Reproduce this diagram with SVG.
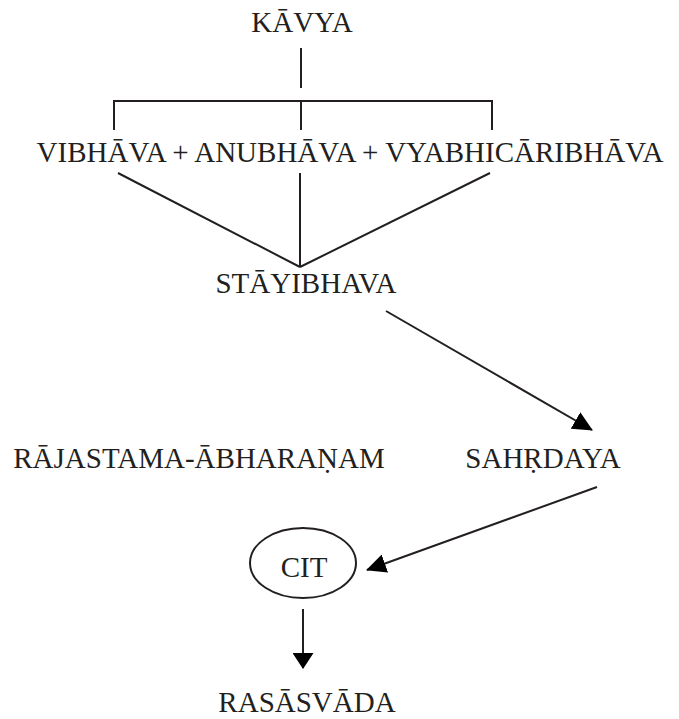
<svg xmlns="http://www.w3.org/2000/svg" width="679" height="719" viewBox="0 0 679 719">
<style>
text{font-family:"Liberation Serif","DejaVu Serif",serif;font-size:29px;fill:#231f20;text-anchor:middle}
.ln{stroke:#231f20;stroke-width:2;fill:none}
</style>
<defs>
<marker id="ah" markerUnits="userSpaceOnUse" viewBox="0 0 20 19" markerWidth="20" markerHeight="19" refX="19" refY="9.5" orient="auto">
<path d="M0,0 L20,9.5 L0,19 z" fill="#000"/>
</marker>
<marker id="ahd" markerUnits="userSpaceOnUse" viewBox="0 0 16 21" markerWidth="16" markerHeight="21" refX="15" refY="10.5" orient="auto">
<path d="M0,0 L16,10.5 L0,21 z" fill="#000"/>
</marker>
</defs>
<rect width="679" height="719" fill="#fff"/>
<g id="connectors">
<line class="ln" x1="301" y1="48" x2="301" y2="88"/>
<path class="ln" d="M114,130 V101 H492 V130 M301,101 V130"/>
<line class="ln" x1="118" y1="173" x2="300" y2="267"/>
<line class="ln" x1="300" y1="173" x2="300" y2="267"/>
<line class="ln" x1="490" y1="173" x2="300" y2="267"/>
<line class="ln" x1="386" y1="311" x2="592" y2="430" stroke="#000" marker-end="url(#ah)"/>
<line class="ln" x1="597" y1="487" x2="367" y2="570" stroke="#000" marker-end="url(#ah)"/>
<line class="ln" x1="303" y1="609" x2="303" y2="668" stroke="#000" marker-end="url(#ahd)"/>
</g>
<g id="kavya"><text x="302" y="32">KĀVYA</text></g>
<g id="bhavas"><text x="350" y="162">VIBHĀVA + ANUBHĀVA + VYABHICĀRIBHĀVA</text></g>
<g id="stayibhava"><text x="306" y="293">STĀYIBHAVA</text></g>
<g id="rajastama"><text x="199" y="468">RĀJASTAMA-ĀBHARAṆAM</text></g>
<g id="sahrdaya"><text x="543" y="468">SAHṚDAYA</text></g>
<g id="cit"><ellipse class="ln" cx="303" cy="563" rx="53" ry="35"/><text x="304" y="577">CIT</text></g>
<g id="rasasvada"><text x="307" y="712">RASĀSVĀDA</text></g>
</svg>
